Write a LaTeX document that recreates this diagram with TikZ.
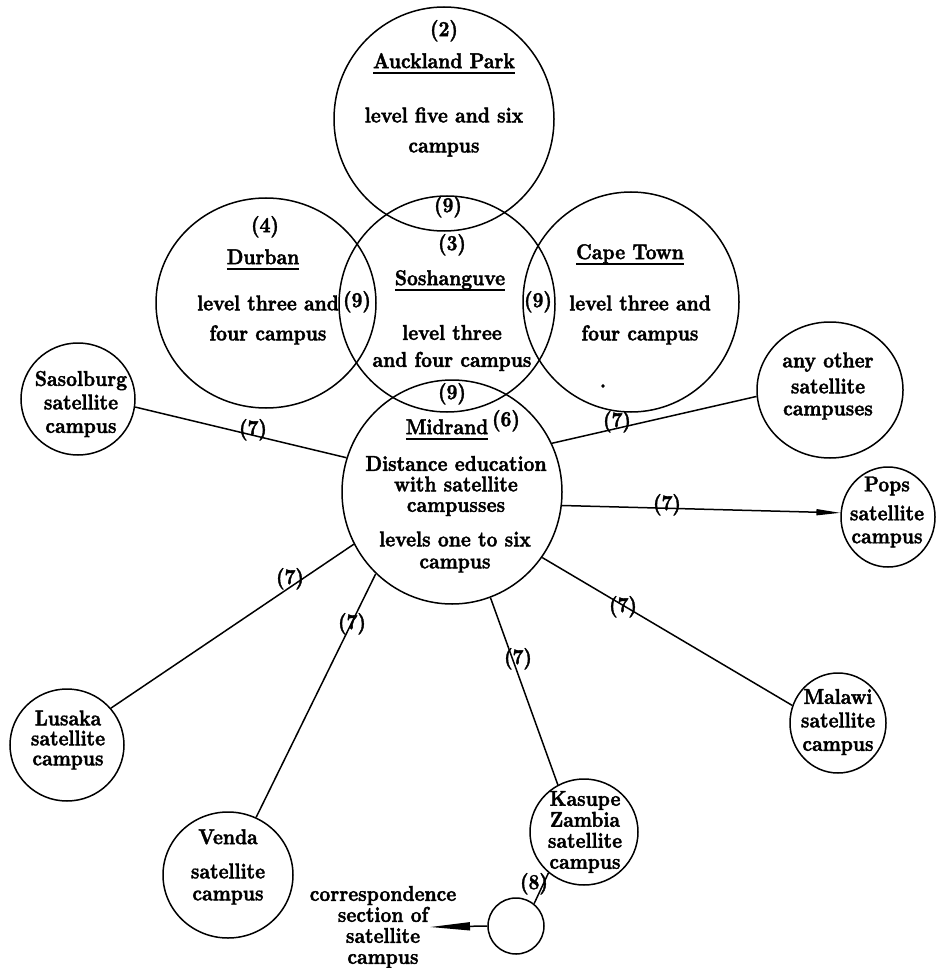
\documentclass[tikz,border=0pt]{standalone}
\usepackage{fontspec}
\setmainfont{lmroman10-regular.otf}[BoldFont=lmroman10-bold.otf,FakeStretch=0.88,FakeBold=1.8]
\usetikzlibrary{shapes.geometric,arrows.meta}
\newcommand\ulx[1]{\setbox0\hbox{#1}\rlap{\smash{\rule[-6pt]{\wd0}{1.8pt}}}\box0}
\newcommand\fsz[1]{\fontsize{21.5}{#1}\selectfont\bfseries}
\begin{document}
\begin{tikzpicture}[x=1pt,y=-1pt,
  circ/.style={draw,ellipse,line width=1.5pt,inner sep=0pt},
  txt/.style={font=\fsz{21},inner sep=0pt,align=center},
  one/.style={txt,anchor=mid},
  conn/.style={line width=1.5pt},
  tip/.style={-{Triangle[length=24pt,width=6pt]}}
]
\useasboundingbox (0,0) rectangle (935,968);
% circles
\node[circ,minimum width=220pt,minimum height=224pt] (ap) at (444,119) {};
\node[circ,minimum width=220pt,minimum height=210pt] (dur) at (266,303) {};
\node[circ,minimum width=216pt,minimum height=216pt] (sosh) at (447,304) {};
\node[circ,minimum width=216pt,minimum height=220pt] (ct) at (631,302) {};
\node[circ,minimum width=220pt,minimum height=224pt] (mid) at (452,492) {};
\node[circ,minimum width=114pt,minimum height=112pt] (sas) at (78,399) {};
\node[circ,minimum width=146pt,minimum height=136pt] (oth) at (830,390) {};
\node[circ,minimum width=94pt,minimum height=100pt] (pops) at (888,517) {};
\node[circ,minimum width=114pt,minimum height=112pt] (lus) at (67,745) {};
\node[circ,minimum width=130pt,minimum height=126pt] (ven) at (228,875) {};
\node[circ,minimum width=108pt,minimum height=106pt] (kas) at (584,832) {};
\node[circ,minimum width=96pt,minimum height=100pt] (mal) at (838,723) {};
\node[circ,minimum width=56pt,minimum height=56pt] (sm) at (516,926) {};
\coordinate (corr) at (430,927);
% connectors
\draw[conn] (sas.-8) -- (mid.162);
\draw[conn] (mid.26) -- (oth.185.5);
\draw[conn,tip] (mid.-7) -- (pops.175);
\draw[conn] (mid.-152) -- (lus.40);
\draw[conn] (mid.-133) -- (ven.64);
\draw[conn] (mid.-70) -- (kas.119);
\draw[conn] (mid.-36) -- (mal.159);
\draw[conn] (kas.229) -- (sm.51);
\draw[conn,-{Triangle[length=40pt,width=8pt]}] (sm.180) -- (corr);
% connector labels
\node[one] (l1) at (253,433) {(7)};
\node[one] (l2) at (617,425) {(7)};
\node[one] (l3) at (667,508) {(7)};
\node[one] (l4) at (290,582) {(7)};
\node[one] (l5) at (352,627) {(7)};
\node[one] (l6) at (518,662) {(7)};
\node[one] (l7) at (623,610) {(7)};
\node[one] (l8) at (534,887) {(8)};
% Auckland Park
\node[one] (t2) at (444,34) {(2)};
\node[one] (tap) at (444,66) {\ulx{Auckland Park}};
\node[txt,font=\fsz{30}] (tap2) at (444,132) {level five and six\\campus};
\node[one] (t9a) at (448,210) {(9)};
% Soshanguve
\node[one] (t3) at (452,248) {(3)};
\node[one] (tso) at (450,283) {\ulx{Soshanguve}};
\node[txt,font=\fsz{27}] (tso2) at (452,348) {level three\\and four campus};
\node[one] (t9b) at (357,305) {(9)};
\node[one] (t9c) at (538,305) {(9)};
% Durban
\node[one] (t4) at (265,230) {(4)};
\node[one] (tdu) at (263,262) {\ulx{Durban}};
\node[txt,font=\fsz{30}] (tdu2) at (268,320) {level three and\\four campus};
% Cape Town
\node[one] (tct) at (630,257) {\ulx{Cape Town}};
\node[txt,font=\fsz{30}] (tct2) at (640,320) {level three and\\four campus};
\node[one] (t9d) at (452,397) {(9)};
\node[txt] (tdot) at (603,386) {.};
% Midrand
\node[one] (tmid) at (447,432) {\ulx{Midrand}};
\node[one] (t6) at (506,424) {(6)};
\node[txt,font=\fsz{20.5}] (tmid2) at (456,486) {Distance education\\with satellite\\campusses};
\node[txt,font=\fsz{22}] (tmid3) at (455,552) {levels one to six\\campus};
% satellites
\node[txt,font=\fsz{23.5}] (tsas) at (81,404) {Sasolburg\\satellite\\campus};
\node[txt,font=\fsz{22}] (toth) at (828,386) {any other\\[4pt]satellite\\campuses};
\node[txt,font=\fsz{23}] (tpop) at (887,512) {Pops\\[6pt]satellite\\campus};
\node[txt,font=\fsz{20}] (tlus) at (68,740) {Lusaka\\satellite\\campus};
\node[one] (tven) at (228,842) {Venda};
\node[txt,font=\fsz{22}] (tven2) at (228,884) {satellite\\campus};
\node[txt,font=\fsz{21}] (tkas) at (585,832) {Kasupe\\Zambia\\satellite\\campus};
\node[txt,font=\fsz{23.5}] (tmal) at (838,722) {Malawi\\satellite\\campus};
\node[txt,font=\fsz{21}] (tcor) at (383,927) {correspondence\\section of\\satellite\\campus};
\end{tikzpicture}
\end{document}
